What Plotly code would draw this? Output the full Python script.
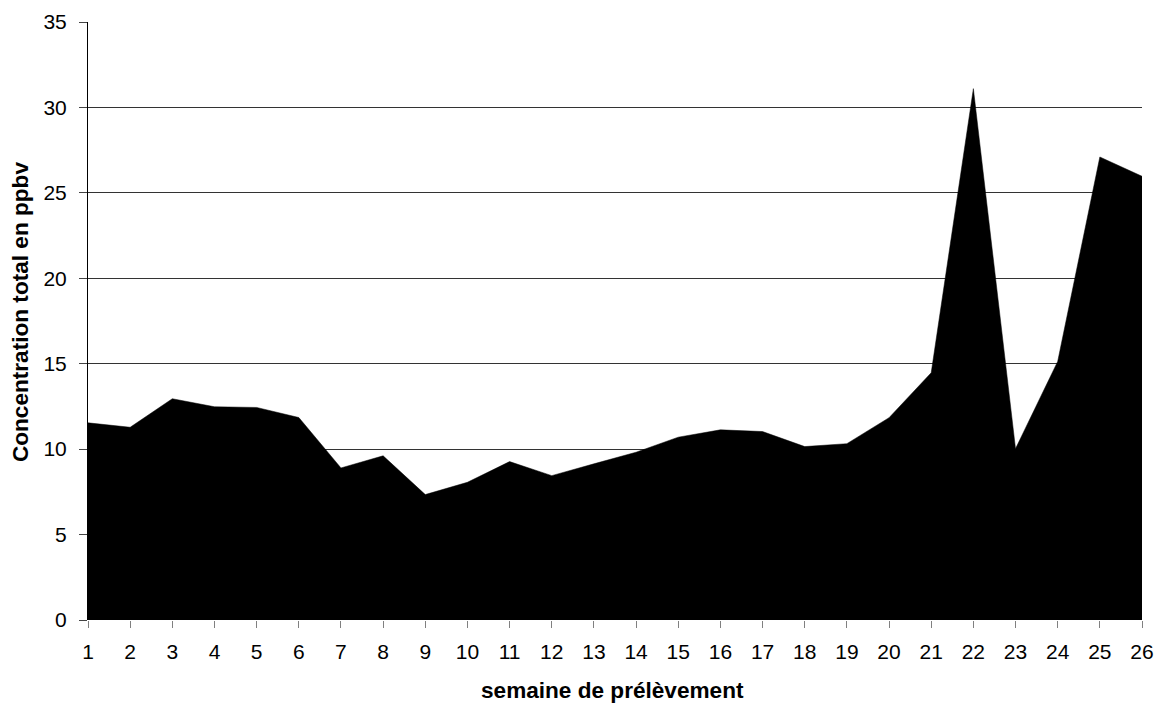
import plotly.graph_objects as go

# semaines et concentrations
semaines = list(range(1, 27))
concentration = [11.54, 11.28, 12.95, 12.48, 12.44, 11.85, 8.90, 9.61, 7.34, 8.06,
                 9.27, 8.45, 9.14, 9.82, 10.70, 11.13, 11.03, 10.15, 10.32, 11.84,
                 14.47, 31.1, 10.03, 15.13, 27.1, 25.97]
y_ticks = [0, 5, 10, 15, 20, 25, 30, 35]

fig = go.Figure(go.Scatter(
    x=semaines,
    y=concentration,
    mode='lines',
    fill='tozeroy',
    fillcolor='black',
    line=dict(color='black', width=0.5),
    hoverinfo='x+y',
))

# la page a une marge de 8px : on compense dans la taille et les marges
fig.update_layout(
    width=1155, height=696,
    margin=dict(l=80, r=21, t=14, b=84),
    plot_bgcolor='white',
    paper_bgcolor='white',
    showlegend=False,
    font=dict(family='Liberation Sans, Arial, sans-serif', size=21, color='black'),
)

fig.update_xaxes(
    range=[1, 26],
    tickmode='array', tickvals=semaines, ticktext=[str(s) for s in semaines],
    showgrid=False, zeroline=False,
    showline=False,
    ticks='outside', ticklen=7, tickcolor='#808080', tickwidth=1,
    tickfont=dict(size=21), ticklabelstandoff=6, ticklabeloverflow='allow',
    automargin=False,
)

fig.update_yaxes(
    range=[0, 35],
    tickmode='array', tickvals=y_ticks,
    showgrid=True, gridcolor='#333333', gridwidth=1,
    zeroline=False,
    showline=True, linecolor='black', linewidth=1,
    ticks='outside', ticklen=8, tickcolor='#444444',
    tickfont=dict(size=21), ticklabelstandoff=8,
    automargin=False,
)

# titres des axes
fig.add_annotation(
    text='<b>semaine de prélèvement</b>', font=dict(size=22.6),
    xref='paper', yref='paper', x=0.498, y=-0.1187,
    xanchor='center', yanchor='middle', showarrow=False,
)
fig.add_annotation(
    text='<b>Concentration total en ppbv</b>', font=dict(size=22.6),
    xref='paper', yref='paper', x=-0.0645, y=0.515, textangle=-90,
    xanchor='center', yanchor='middle', showarrow=False,
)

fig.write_html("out.html")
